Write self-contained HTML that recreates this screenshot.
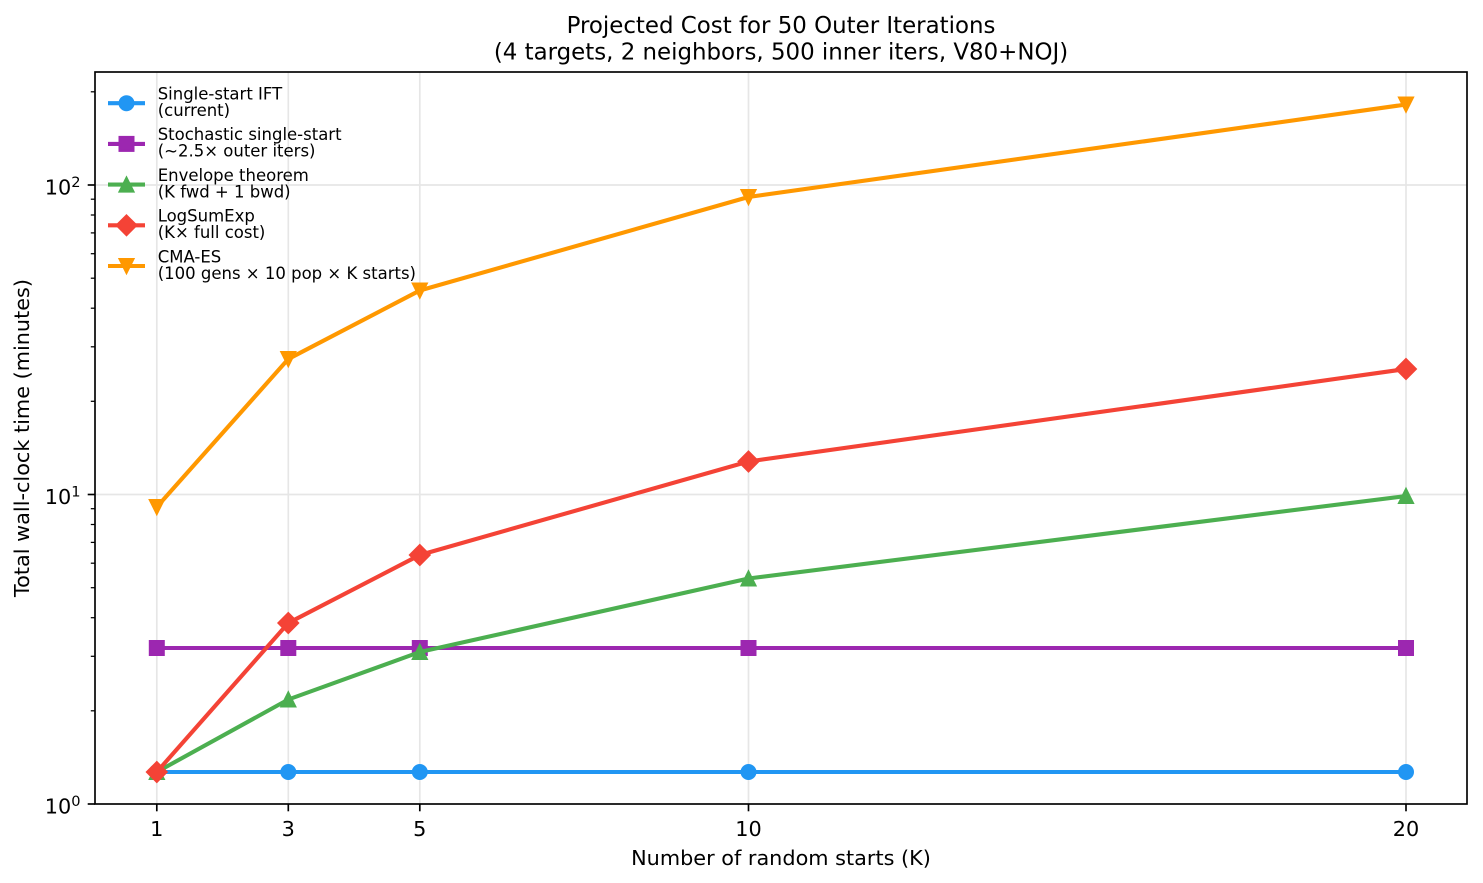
<!DOCTYPE html>
<html><head><meta charset="utf-8"><style>
html,body{margin:0;padding:0;background:#fff;}
svg{display:block;}
text{font-family:"DejaVu Sans","Liberation Sans",sans-serif;fill:#000;}
</style></head><body>
<svg width="1483" height="883" viewBox="0 0 1483 883" xmlns="http://www.w3.org/2000/svg">
<rect x="0" y="0" width="1483" height="883" fill="#fff"/>
<!-- grid -->
<g stroke="#e6e6e6" stroke-width="1.7">
<line x1="156.8" y1="72" x2="156.8" y2="804"/>
<line x1="288.3" y1="72" x2="288.3" y2="804"/>
<line x1="419.8" y1="72" x2="419.8" y2="804"/>
<line x1="748.5" y1="72" x2="748.5" y2="804"/>
<line x1="1406" y1="72" x2="1406" y2="804"/>
<line x1="95" y1="494.5" x2="1467" y2="494.5"/>
<line x1="95" y1="185" x2="1467" y2="185"/>
</g>
<defs>
<circle id="mo" r="7" />
<rect id="ms" x="-7" y="-7" width="14" height="14"/>
<polygon id="m^" points="0,-7 -7,7 7,7"/>
<polygon id="mD" points="0,-9.9 9.9,0 0,9.9 -9.9,0"/>
<polygon id="mv" points="0,7 -7,-7 7,-7"/>
</defs>
<!-- blue -->
<g fill="#2196F3" stroke="#2196F3" stroke-width="2" stroke-linejoin="miter">
<polyline fill="none" stroke-width="4.1" stroke-linecap="square" stroke-linejoin="round" points="156.8,772 288.3,772 419.8,772 748.5,772 1406,772"/>
<use href="#mo" x="156.8" y="772"/><use href="#mo" x="288.3" y="772"/><use href="#mo" x="419.8" y="772"/><use href="#mo" x="748.5" y="772"/><use href="#mo" x="1406" y="772"/>
</g>
<!-- purple -->
<g fill="#9C27B0" stroke="#9C27B0" stroke-width="2">
<polyline fill="none" stroke-width="4.1" stroke-linecap="square" stroke-linejoin="round" points="156.8,648 288.3,648 419.8,648 748.5,648 1406,648"/>
<use href="#ms" x="156.8" y="648"/><use href="#ms" x="288.3" y="648"/><use href="#ms" x="419.8" y="648"/><use href="#ms" x="748.5" y="648"/><use href="#ms" x="1406" y="648"/>
</g>
<!-- green -->
<g fill="#4CAF50" stroke="#4CAF50" stroke-width="2">
<polyline fill="none" stroke-width="4.1" stroke-linecap="square" stroke-linejoin="round" points="156.8,772 288.3,699.5 419.8,652 748.5,578.5 1406,496"/>
<use href="#m^" x="156.8" y="772"/><use href="#m^" x="288.3" y="699.5"/><use href="#m^" x="419.8" y="652"/><use href="#m^" x="748.5" y="578.5"/><use href="#m^" x="1406" y="496"/>
</g>
<!-- red -->
<g fill="#F44336" stroke="#F44336" stroke-width="2">
<polyline fill="none" stroke-width="4.1" stroke-linecap="square" stroke-linejoin="round" points="156.8,772 288.3,623 419.8,555 748.5,461.5 1406,369"/>
<use href="#mD" x="156.8" y="772"/><use href="#mD" x="288.3" y="623"/><use href="#mD" x="419.8" y="555"/><use href="#mD" x="748.5" y="461.5"/><use href="#mD" x="1406" y="369"/>
</g>
<!-- orange -->
<g fill="#FF9800" stroke="#FF9800" stroke-width="2">
<polyline fill="none" stroke-width="4.1" stroke-linecap="square" stroke-linejoin="round" points="156.8,507 288.3,359 419.8,290.5 748.5,197 1406,104.5"/>
<use href="#mv" x="156.8" y="507"/><use href="#mv" x="288.3" y="359"/><use href="#mv" x="419.8" y="290.5"/><use href="#mv" x="748.5" y="197"/><use href="#mv" x="1406" y="104.5"/>
</g>
<!-- spines -->
<rect x="95" y="72" width="1372" height="732" fill="none" stroke="#000" stroke-width="1.67"/>
<!-- y ticks -->
<g stroke="#000" stroke-width="1.67">
<line x1="87.7" y1="804" x2="95" y2="804"/>
<line x1="87.7" y1="494.5" x2="95" y2="494.5"/>
<line x1="87.7" y1="185" x2="95" y2="185"/>
</g>
<g stroke="#000" stroke-width="1.25">
<line x1="90.8" y1="710.8" x2="95" y2="710.8"/>
<line x1="90.8" y1="656.3" x2="95" y2="656.3"/>
<line x1="90.8" y1="617.7" x2="95" y2="617.7"/>
<line x1="90.8" y1="587.7" x2="95" y2="587.7"/>
<line x1="90.8" y1="563.2" x2="95" y2="563.2"/>
<line x1="90.8" y1="542.4" x2="95" y2="542.4"/>
<line x1="90.8" y1="524.5" x2="95" y2="524.5"/>
<line x1="90.8" y1="508.7" x2="95" y2="508.7"/>
<line x1="90.8" y1="401.3" x2="95" y2="401.3"/>
<line x1="90.8" y1="346.8" x2="95" y2="346.8"/>
<line x1="90.8" y1="308.2" x2="95" y2="308.2"/>
<line x1="90.8" y1="278.2" x2="95" y2="278.2"/>
<line x1="90.8" y1="253.7" x2="95" y2="253.7"/>
<line x1="90.8" y1="232.9" x2="95" y2="232.9"/>
<line x1="90.8" y1="215.0" x2="95" y2="215.0"/>
<line x1="90.8" y1="199.2" x2="95" y2="199.2"/>
<line x1="90.8" y1="91.8" x2="95" y2="91.8"/>
</g>
<!-- x ticks -->
<g stroke="#000" stroke-width="1.67">
<line x1="156.8" y1="804" x2="156.8" y2="811.3"/>
<line x1="288.3" y1="804" x2="288.3" y2="811.3"/>
<line x1="419.8" y1="804" x2="419.8" y2="811.3"/>
<line x1="748.5" y1="804" x2="748.5" y2="811.3"/>
<line x1="1406" y1="804" x2="1406" y2="811.3"/>
</g>
<!-- y tick labels -->
<g font-size="20.8" text-anchor="end">
<text x="80.5" y="813.5">10<tspan font-size="14.6" dy="-7.5">0</tspan></text>
<text x="80.5" y="504">10<tspan font-size="14.6" dy="-7.5">1</tspan></text>
<text x="80.5" y="194.5">10<tspan font-size="14.6" dy="-7.5">2</tspan></text>
</g>
<!-- x tick labels -->
<g font-size="20.8" text-anchor="middle">
<text x="156.8" y="836">1</text>
<text x="288.3" y="836">3</text>
<text x="419.8" y="836">5</text>
<text x="748.5" y="836">10</text>
<text x="1406" y="836">20</text>
</g>
<!-- axis labels -->
<text x="781" y="865" font-size="20.8" text-anchor="middle">Number of random starts (K)</text>
<text transform="translate(29,438) rotate(-90)" font-size="20.8" text-anchor="middle">Total wall-clock time (minutes)</text>
<!-- title -->
<text x="781" y="33" font-size="22.9" text-anchor="middle">Projected Cost for 50 Outer Iterations</text>
<text x="781" y="59.5" font-size="22.9" text-anchor="middle">(4 targets, 2 neighbors, 500 inner iters, V80+NOJ)</text>
<!-- legend -->
<g font-size="16.5">
<g fill="#2196F3" stroke="#2196F3" stroke-width="2">
<line x1="108" y1="103.2" x2="145" y2="103.2" stroke-width="4.1"/>
<use href="#mo" x="126.5" y="103.2"/>
</g>
<text x="157.7" y="99.5">Single-start IFT</text>
<text x="157.7" y="116">(current)</text>

<g fill="#9C27B0" stroke="#9C27B0" stroke-width="2">
<line x1="108" y1="143.9" x2="145" y2="143.9" stroke-width="4.1"/>
<use href="#ms" x="126.5" y="143.9"/>
</g>
<text x="157.7" y="140.2">Stochastic single-start</text>
<text x="157.7" y="156.7">(~2.5× outer iters)</text>

<g fill="#4CAF50" stroke="#4CAF50" stroke-width="2">
<line x1="108" y1="184.6" x2="145" y2="184.6" stroke-width="4.1"/>
<use href="#m^" x="126.5" y="184.6"/>
</g>
<text x="157.7" y="180.9">Envelope theorem</text>
<text x="157.7" y="197.4">(K fwd + 1 bwd)</text>

<g fill="#F44336" stroke="#F44336" stroke-width="2">
<line x1="108" y1="225.3" x2="145" y2="225.3" stroke-width="4.1"/>
<use href="#mD" x="126.5" y="225.3"/>
</g>
<text x="157.7" y="221.6">LogSumExp</text>
<text x="157.7" y="238.1">(K× full cost)</text>

<g fill="#FF9800" stroke="#FF9800" stroke-width="2">
<line x1="108" y1="266" x2="145" y2="266" stroke-width="4.1"/>
<use href="#mv" x="126.5" y="266"/>
</g>
<text x="157.7" y="262.3">CMA-ES</text>
<text x="157.7" y="278.8">(100 gens × 10 pop × K starts)</text>
</g>
</svg>
</body></html>
